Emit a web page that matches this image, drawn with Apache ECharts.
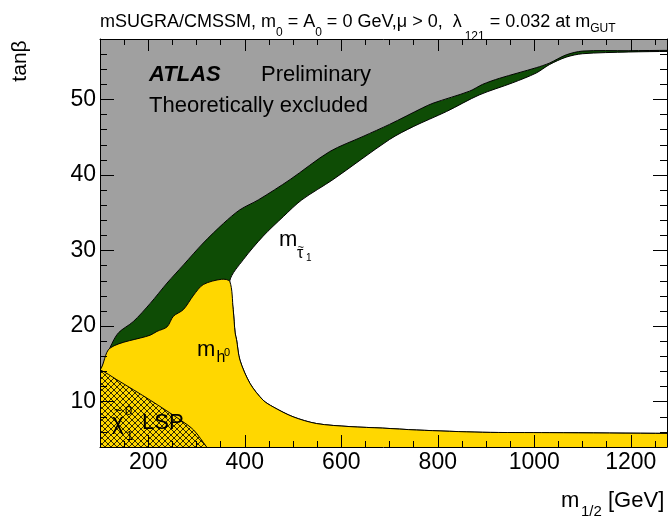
<!DOCTYPE html>
<html>
<head>
<meta charset="utf-8">
<script src="https://cdn.jsdelivr.net/npm/echarts@6/dist/echarts.min.js"></script>
<style>
html, body { margin: 0; padding: 0; background: #fff; }
#chart { width: 670px; height: 516px; }
</style>
</head>
<body>
<div id="chart"></div>
<script>
// points are [m1/2 (GeV), tanβ]
// lower edge of the theoretically excluded region (grey / green)
var excludedEdge = [
    [100, 14.2], [121, 17.2], [138, 19.1], [169, 20.6], [204, 23.0], [239, 25.7],
    [273, 28.1], [314, 31.0], [356, 33.6], [390, 35.4], [428, 36.7], [494, 39.4],
    [576, 43.1], [645, 45.1], [700, 46.7], [769, 48.9], [790, 49.5], [866, 51.1],
    [893, 52.0], [928, 52.8], [1004, 54.2], [1031, 54.8], [1066, 55.9], [1100, 56.4],
    [1196, 56.45], [1280, 56.5]
];
// lower edge of the stau limit (green / white)
var stauEdge = [
    [369, 26.0], [397, 28.8], [438, 31.9], [480, 34.5], [518, 36.7], [583, 39.4],
    [700, 44.7], [749, 46.4], [818, 48.4], [886, 50.6], [955, 52.2], [1004, 53.5],
    [1031, 54.6], [1066, 55.6], [1100, 56.05], [1196, 56.28], [1280, 56.36]
];
// upper edge of the higgs limit (yellow / green)
var higgsTop = [
    [100, 14.2], [121, 17.1], [204, 18.8], [218, 19.3], [239, 19.9], [252, 21.3],
    [273, 22.2], [294, 24.1], [314, 25.5], [352, 26.2], [369, 25.9]
];
// right edge of the higgs limit (yellow / white)
var higgsEdge = [
    [369, 25.9], [376, 22.2], [380, 19.1], [383, 18.2], [390, 15.5], [411, 12.4],
    [438, 10.2], [459, 9.3], [500, 8.0], [549, 7.1], [618, 6.7], [686, 6.5],
    [756, 6.25], [893, 5.95], [1031, 5.9], [1280, 5.8]
];
// edge of the neutralino LSP region
var lspEdge = [
    [100, 14.2], [135, 12.9], [204, 10.2], [266, 7.6], [294, 6.25], [321, 4.0], [335, 2.8]
];

var xRange = [100, 1275];
var yRange = [4, 58];
var xMajor = [200, 400, 600, 800, 1000, 1200];
var yMajor = [10, 20, 30, 40, 50];

var FONT = '"Liberation Sans", Arial, Helvetica, sans-serif';

window.onload = function () {
    var chart = echarts.init(document.getElementById('chart'));

    // cross hatch tile
    var tile = document.createElement('canvas');
    tile.width = 6;
    tile.height = 6;
    var g = tile.getContext('2d');
    g.strokeStyle = '#000';
    g.lineWidth = 0.8;
    g.beginPath();
    g.moveTo(-1, -1); g.lineTo(7, 7);
    g.moveTo(7, -1); g.lineTo(-1, 7);
    g.stroke();

    function region(points, style, z) {
        return {
            type: 'custom',
            coordinateSystem: 'cartesian2d',
            clip: true,
            silent: true,
            z: z,
            data: points,
            renderItem: function (params, api) {
                if (params.dataIndex !== 0) return null;
                return {
                    type: 'polygon',
                    shape: {
                        points: points.map(function (p) { return api.coord(p); }),
                        smooth: 0.3
                    },
                    style: style
                };
            }
        };
    }

    function plain(v) { return String(v); }

    function xAxis(pos, len, custom, line, labels) {
        return {
            type: 'value', position: pos, min: xRange[0], max: xRange[1],
            interval: custom ? undefined : 50,
            z: 10,
            axisLine: { show: line, lineStyle: { color: '#000', width: 1 } },
            axisTick: { show: true, inside: true, length: len, customValues: custom,
                        lineStyle: { color: '#000', width: 1 } },
            axisLabel: { show: labels, customValues: custom, formatter: plain, color: '#000',
                         fontSize: 23, fontFamily: FONT, margin: 4 },
            splitLine: { show: false }
        };
    }

    function yAxis(pos, len, custom, line, labels) {
        return {
            type: 'value', position: pos, min: yRange[0], max: yRange[1],
            interval: custom ? undefined : 2,
            z: 10,
            axisLine: { show: line, lineStyle: { color: '#000', width: 1 } },
            axisTick: { show: true, inside: true, length: len, customValues: custom,
                        lineStyle: { color: '#000', width: 1 } },
            axisLabel: { show: labels, customValues: custom, formatter: plain, color: '#000',
                         fontSize: 23, fontFamily: FONT, margin: 4 },
            splitLine: { show: false }
        };
    }

    var txt = function (x, y, text, size, extra) {
        var s = { text: text, x: 0, y: 0, fill: '#000', fontSize: size, fontFamily: FONT,
                  verticalAlign: 'middle' };
        for (var k in extra) s[k] = extra[k];
        return { type: 'text', x: x, y: y, z: 100, style: s };
    };

    // corners of the filled areas sit outside the frame, clipped away
    var grey = [[60, 80], [60, 14.2], [80, 14.2]]
        .concat(excludedEdge, [[1300, 56.5], [1330, 56.5], [1330, 80]]);
    var green = [[60, 14.2], [80, 14.2]]
        .concat(excludedEdge, [[1300, 56.5], [1330, 56.5], [1330, -20], [60, -20]]);
    var white = stauEdge
        .concat([[1300, 56.36], [1330, 56.36], [1330, 5.8], [1300, 5.8]],
                higgsEdge.slice(1).reverse());
    var yellow = [[60, -20], [60, 14.2], [80, 14.2]]
        .concat(higgsTop, higgsEdge.slice(1), [[1300, 5.8], [1330, 5.8], [1330, -20]]);
    var hatch = [[60, -20], [60, 14.2], [80, 14.2]]
        .concat(lspEdge, [[335, -20]]);

    var tanb = txt(20, 61, 'tan\u03b2', 21, { align: 'center' });
    tanb.rotation = Math.PI / 2;

    var option = {
        animation: false,
        backgroundColor: '#fff',
        grid: { left: 100, right: 3, top: 39, bottom: 69 },
        xAxis: [
            xAxis('bottom', 12, xMajor, true, true),
            xAxis('bottom', 6, undefined, false, false),
            xAxis('top', 12, xMajor, true, false),
            xAxis('top', 6, undefined, false, false)
        ],
        yAxis: [
            yAxis('left', 14, yMajor, true, true),
            yAxis('left', 7, undefined, false, false),
            yAxis('right', 14, yMajor, true, false),
            yAxis('right', 7, undefined, false, false)
        ],
        series: [
            region(grey, { fill: '#a0a0a0' }, 1),
            region(green, { fill: '#0e4c05', stroke: '#000', lineWidth: 1 }, 2),
            region(white, { fill: '#fff', stroke: '#000', lineWidth: 1 }, 3),
            region(yellow, { fill: '#ffd700', stroke: '#000', lineWidth: 1 }, 4),
            region(hatch, { fill: { image: tile, repeat: 'repeat' }, stroke: '#000', lineWidth: 1 }, 5)
        ],
        graphic: [
            {
                type: 'text', x: 100, y: 13.5, z: 100,
                style: {
                    text: '{n|mSUGRA/CMSSM, m}{s|0}{n| = A}{s|0}{n| = 0 GeV,\u03bc > 0,  \u03bb}{d|121}{n| = 0.032 at m}{g|GUT}',
                    verticalAlign: 'top',
                    rich: {
                        n: { fontSize: 18, lineHeight: 20, fontFamily: FONT, color: '#000', verticalAlign: 'top' },
                        s: { fontSize: 12, lineHeight: 12, fontFamily: FONT, color: '#000', verticalAlign: 'top', padding: [13, 0, 0, 0] },
                        d: { fontSize: 12, lineHeight: 12, fontFamily: FONT, color: '#000', verticalAlign: 'top', padding: [17, 0, 0, 3] },
                        g: { fontSize: 12, lineHeight: 12, fontFamily: FONT, color: '#000', verticalAlign: 'top', padding: [9, 0, 0, 0] }
                    }
                }
            },
            tanb,
            txt(149, 75, 'ATLAS', 22, { fontWeight: 'bold', fontStyle: 'italic' }),
            txt(261, 75, 'Preliminary', 22, {}),
            txt(149, 106, 'Theoretically excluded', 22, {}),
            txt(279, 239.5, 'm', 22, {}),
            txt(297, 254, '\u03c4', 16, {}),
            txt(297.5, 247.5, '~', 11, {}),
            txt(306, 258.5, '1', 10, {}),
            txt(197, 349.5, 'm', 22, {}),
            txt(216.5, 358, 'h', 16, {}),
            txt(224, 353, '0', 11, {}),
            txt(112, 422.5, '\u03c7', 22, {}),
            txt(114, 411, '~', 14, {}),
            txt(125, 411, '0', 13, {}),
            txt(126, 436, '1', 13, {}),
            txt(142, 422.5, 'LSP', 22, {}),
            txt(561, 501, 'm', 22, {}),
            txt(581, 512, '1/2', 15, {}),
            txt(608, 501, '[GeV]', 22, {})
        ]
    };

    chart.setOption(option);
};
</script>
</body>
</html>
